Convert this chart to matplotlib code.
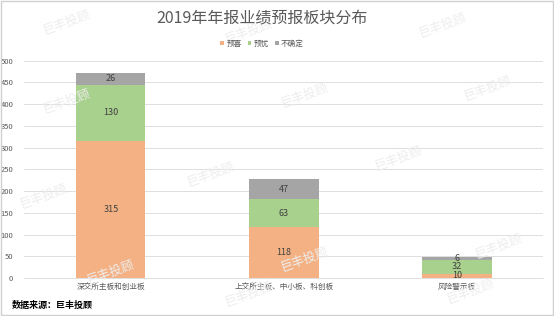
import numpy as np
import matplotlib.pyplot as plt

plt.rcParams['font.family'] = ['Noto Sans CJK SC', 'DejaVu Sans']

# 数据
categories = ['深交所主板和创业板', '上交所主板、中小板、科创板', '风险警示板']
yuxi = [315, 118, 10]
yuyou = [130, 63, 32]
buqueding = [26, 47, 6]
series_names = ['预喜', '预忧', '不确定']
colors = ['#F4B183', '#A9D18E', '#A5A5A5']

fig = plt.figure(figsize=(5.54, 3.16), dpi=100)
ax = fig.add_axes([0.044, 0.12, 0.937, 0.688])

x = np.arange(len(categories))
w = 0.4
bottom = np.zeros(len(categories))
for vals, name, c in zip([yuxi, yuyou, buqueding], series_names, colors):
    bars = ax.bar(x, vals, w, bottom=bottom, color=c, label=name, zorder=2)
    for xi, b, v in zip(x, bottom, vals):
        ax.text(xi, b + v / 2, str(v), ha='center', va='center',
                fontsize=6.5, color='#404040', zorder=3)
    bottom += np.array(vals)

ax.set_xlim(-0.5, 2.5)
ax.set_ylim(0, 500)
ax.set_yticks(range(0, 501, 50))
ax.set_xticks(x)
ax.set_xticklabels(categories)
ax.tick_params(axis='both', length=0, labelsize=5.5, colors='#595959')
ax.tick_params(axis='y', pad=8)
ax.grid(axis='y', color='#D9D9D9', linewidth=0.6, zorder=0)
for s in ['top', 'right', 'left']:
    ax.spines[s].set_visible(False)
ax.spines['bottom'].set_color('#D9D9D9')
ax.spines['bottom'].set_linewidth(0.6)

fig.text(0.473, 0.94, '2019年年报业绩预报板块分布', ha='center', va='center',
         fontsize=11.5, color='#595959')
fig.legend(loc='center', bbox_to_anchor=(0.473, 0.862), ncol=3, frameon=False,
           fontsize=5.5, handlelength=0.5, handleheight=0.5, handletextpad=0.3,
           columnspacing=0.8, labelcolor='#595959')
fig.text(0.022, 0.035, '数据来源：巨丰投顾', ha='left', va='center',
         fontsize=6.5, color='#000000', fontweight='bold')

# 水印
marks = [(0.12, 0.93), (0.45, 0.9), (0.8, 0.92), (0.12, 0.68), (0.55, 0.7),
         (0.88, 0.72), (0.08, 0.38), (0.38, 0.45), (0.72, 0.5), (0.2, 0.14),
         (0.55, 0.18), (0.9, 0.22), (0.45, 0.07), (0.85, 0.08)]
for mx, my in marks:
    fig.text(mx, my, '巨丰投顾', fontsize=9, color='#EDEDED', rotation=20,
             ha='center', va='center', zorder=0)

fig.patches.append(plt.Rectangle((0.002, 0.003), 0.996, 0.994, transform=fig.transFigure,
                                 fill=False, edgecolor='#D0D0D0', linewidth=1))

fig.savefig('out.png', dpi=100)
